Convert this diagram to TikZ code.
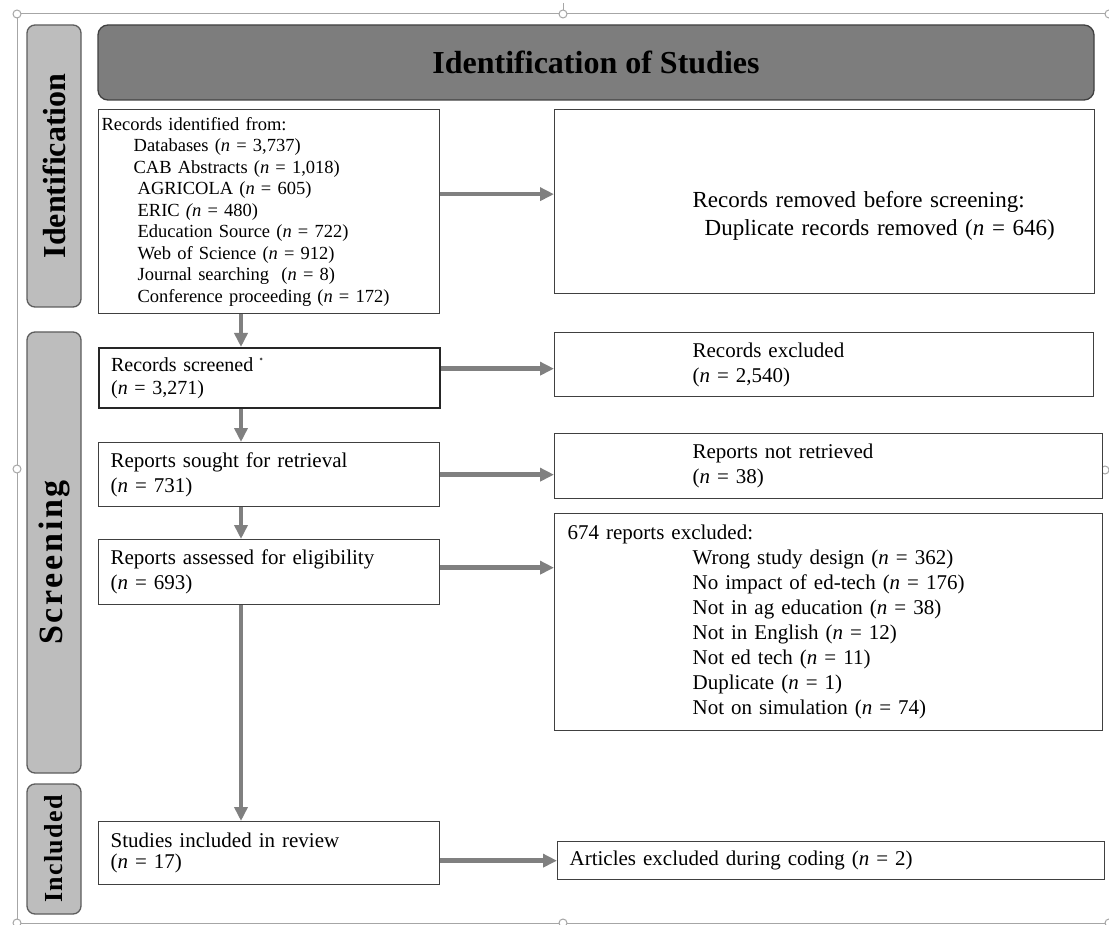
\documentclass[tikz,border=0pt]{standalone}
\usepackage{fontspec}
\setmainfont{Liberation Serif}
\usepackage{xcolor}
\usepackage{tikz}
\usetikzlibrary{arrows.meta, positioning, calc}
\definecolor{barc}{HTML}{7D7D7D}
\definecolor{sidec}{HTML}{BDBDBD}
\definecolor{edgec}{HTML}{404040}
\definecolor{framec}{HTML}{A6A6A6}
\definecolor{flowc}{HTML}{808080}
\begin{document}
\begin{tikzpicture}[x=1pt, y=-1pt,
    box/.style={draw=edgec, line width=1.3pt, fill=white, anchor=north west, align=left,
      inner xsep=12pt, inner ysep=0pt, font=\fontsize{21}{25}\selectfont},
    side/.style={draw=edgec!85, line width=1.3pt, fill=sidec, rounded corners=8pt, rotate=90,
      minimum height=54pt, inner sep=0pt, font=\fontsize{32}{32}\selectfont\bfseries},
    flow/.style={draw=flowc, line width=4.5pt, -{Triangle[length=14pt,width=13pt]}},
    handle/.style={draw=framec, fill=white, line width=1pt}]
  \useasboundingbox (0,0) rectangle (1109,925);

  \draw[framec, line width=1pt] (1109,14) -- (17,14) -- (17,923) -- (1109,923);
  \draw[framec, line width=1pt] (563,3) -- (563,10);
  \foreach \p in {(17,14),(563,14),(1109,14),(17,469),(1105,470),(17,923),(563,923),(1109,923)}
    \draw[handle] \p circle (4);

  \node[draw=edgec, line width=1.3pt, fill=barc, rounded corners=10pt, minimum width=996pt,
    minimum height=75pt, font=\fontsize{32}{32}\selectfont\bfseries] (title) at (596,62.5)
    {Identification of Studies};
  \node[side, minimum width=282pt] (sid) at (54,166) {Identification};
  \node[side, minimum width=441pt, font=\fontsize{34}{34}\selectfont\bfseries\addfontfeature{LetterSpace=8}]
    (sscr) at (54,552.5) {Screening\hspace*{20pt}};
  \node[side, minimum width=130pt, font=\fontsize{26}{26}\selectfont\bfseries\addfontfeature{LetterSpace=5}]
    (sinc) at (54,849) {Included};

  \node[box, inner xsep=3pt, text width=335pt, minimum height=204pt,
    font=\fontsize{18.5}{21.5}\selectfont] (id) at (98,109)
    {Records identified from:\\
     \hspace*{32pt}Databases (\textit{n} = 3,737)\\
     \hspace*{32pt}CAB Abstracts (\textit{n} = 1,018)\\
     \hspace*{36pt}AGRICOLA (\textit{n} = 605)\\
     \hspace*{36pt}ERIC \textit{(n} = 480)\\
     \hspace*{36pt}Education Source (\textit{n} = 722)\\
     \hspace*{36pt}Web of Science (\textit{n} = 912)\\
     \hspace*{36pt}Journal searching\ \ (\textit{n} = 8)\\
     \hspace*{36pt}Conference proceeding (\textit{n} = 172)};
  \node[box, inner xsep=13pt, text width=514pt, minimum height=184pt,
    font=\fontsize{23}{28}\selectfont] (rem) at (554,109)
    {\mbox{}\\[16pt]
     \hspace*{125pt}Records removed before screening:\\
     \hspace*{137pt}Duplicate records removed (\textit{n} = 646)};

  \node[box, draw=black!85, line width=2.2pt, text width=317pt, minimum height=60pt,
    font=\fontsize{20}{23}\selectfont] (scr) at (98,347)
    {Records screened\\(\textit{n} = 3,271)};
  \fill[black!70] (261,359) circle (1.5);
  \node[box, inner xsep=13pt, text width=513pt, minimum height=64pt] (exc) at (554,332)
    {\hspace*{125pt}Records excluded\\\hspace*{125pt}(\textit{n} = 2,540)};

  \node[box, text width=317pt, minimum height=64pt] (sou) at (98,442)
    {Reports sought for retrieval\\(\textit{n} = 731)};
  \node[box, inner xsep=13pt, text width=522pt, minimum height=65pt] (ret) at (554,433)
    {\hspace*{125pt}Reports not retrieved\\\hspace*{125pt}(\textit{n} = 38)};

  \node[box, text width=317pt, minimum height=65pt] (ass) at (98,539)
    {Reports assessed for eligibility\\(\textit{n} = 693)};
  \node[box, inner xsep=13pt, text width=522pt, minimum height=217pt] (rep) at (554,513)
    {674 reports excluded:\\
     \hspace*{125pt}Wrong study design (\textit{n} = 362)\\
     \hspace*{125pt}No impact of ed-tech (\textit{n} = 176)\\
     \hspace*{125pt}Not in ag education (\textit{n} = 38)\\
     \hspace*{125pt}Not in English (\textit{n} = 12)\\
     \hspace*{125pt}Not ed tech (\textit{n} = 11)\\
     \hspace*{125pt}Duplicate (\textit{n} = 1)\\
     \hspace*{125pt}Not on simulation (\textit{n} = 74)};

  \node[box, text width=317pt, minimum height=63pt, font=\fontsize{21}{21}\selectfont] (inc) at (98,821)
    {Studies included in review\\(\textit{n} = 17)};
  \node[box, text width=523pt, minimum height=38pt] (art) at (557,841)
    {Articles excluded during coding (\textit{n} = 2)};

  \coordinate (col) at (241,0);
  \draw[flow] ($(rem.west -| id.east)+(0,-7.5)$) -- ($(rem.west)+(0,-7.5)$);
  \draw[flow] ($(exc.west -| scr.east)+(0,4)$) -- ($(exc.west)+(0,4)$);
  \draw[flow] (sou.east) -- (sou.east -| ret.west);
  \draw[flow] ($(ass.east)+(0,-4.5)$) -- ($(ass.east -| rep.west)+(0,-4.5)$);
  \draw[flow] (art.west -| inc.east) -- (art.west);
  \draw[flow] (id.south -| col) -- (scr.north -| col);
  \draw[flow] (scr.south -| col) -- (sou.north -| col);
  \draw[flow] (sou.south -| col) -- (ass.north -| col);
  \draw[flow] (ass.south -| col) -- (inc.north -| col);
\end{tikzpicture}
\end{document}
